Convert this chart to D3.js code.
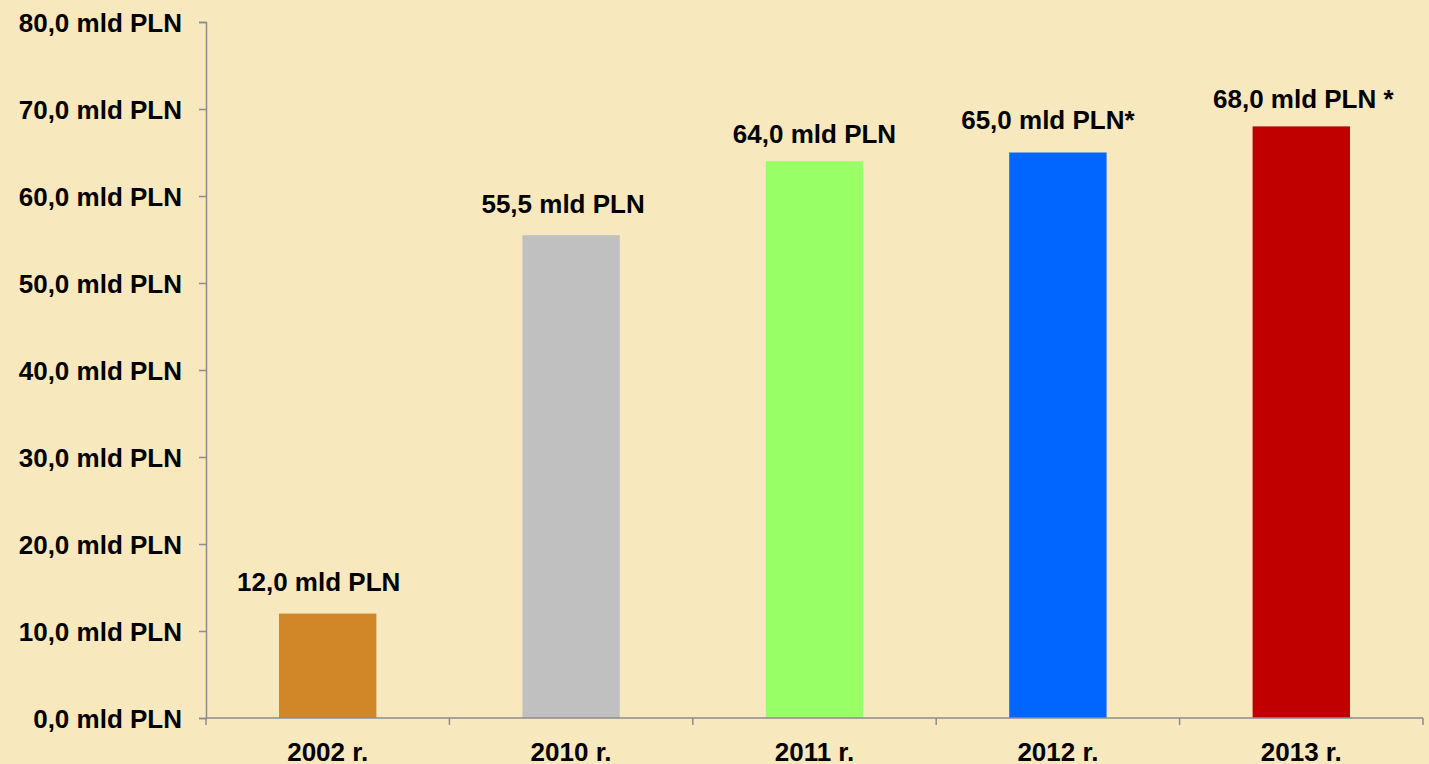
<!DOCTYPE html>
<html lang="pl">
<head>
<meta charset="UTF-8">
<title>mld PLN</title>
<style>
  body, html { margin: 0; padding: 0; background: #F7E8BE; }
  svg { display: block; }
  text { font-family: "Liberation Sans", Arial, sans-serif; font-weight: bold; fill: #000; }
</style>
</head>
<body>
<svg id="chart" width="1429" height="764"></svg>
<script src="https://cdn.jsdelivr.net/npm/d3@7"></script>
<script>
var years = ["2002 r.", "2010 r.", "2011 r.", "2012 r.", "2013 r."];
var values = [12.0, 55.5, 64.0, 65.0, 68.0];
var labels = ["12,0 mld PLN", "55,5 mld PLN", "64,0 mld PLN", "65,0 mld PLN*", "68,0 mld PLN *"];
var colors = ["#D18628", "#C0C0C0", "#99FF66", "#0066FF", "#C00000"];
var yTicks = [0, 10, 20, 30, 40, 50, 60, 70, 80];

var svg = d3.select("#chart"),
    plotLeft = 206, plotRight = 1423, plotTop = 22, plotBottom = 718,
    fontSize = "26px";

// labels were hand-placed in the original, nudge them the same way
var labelShift = [[-9, 23], [-8, 22], [0, 18], [-10, 24], [2, 18]];

var x = d3.scaleBand().domain(years).range([plotLeft, plotRight]).paddingInner(0.6).paddingOuter(0.3);
var y = d3.scaleLinear().domain([0, 80]).range([plotBottom, plotTop]);

var fmt = function (v) { return v.toFixed(1).replace(".", ",") + " mld PLN"; };

// y axis
var yAxis = svg.append("g")
    .attr("transform", "translate(" + plotLeft + ",0)")
    .call(d3.axisLeft(y).tickValues(yTicks).tickSize(7).tickPadding(17).tickFormat(fmt));
yAxis.select(".domain").attr("stroke", "#8C8C8C").attr("stroke-width", 1.5);
yAxis.selectAll(".tick line").attr("stroke", "#8C8C8C").attr("stroke-width", 1.5);
yAxis.selectAll("text").style("font-size", fontSize).attr("dy", "0.35em")
    .style("font-family", "'Liberation Sans', Arial, sans-serif").style("font-weight", "bold").attr("fill", "#000");

// bars
svg.selectAll("rect.bar").data(values).enter().append("rect")
    .attr("class", "bar")
    .attr("x", function (d, i) { return x(years[i]); })
    .attr("width", x.bandwidth())
    .attr("y", function (d) { return y(d); })
    .attr("height", function (d) { return y(0) - y(d); })
    .attr("fill", function (d, i) { return colors[i]; });

// value labels
svg.selectAll("text.val").data(values).enter().append("text")
    .attr("class", "val")
    .attr("x", function (d, i) { return x(years[i]) + x.bandwidth() / 2 + labelShift[i][0]; })
    .attr("y", function (d, i) { return y(d) - labelShift[i][1]; })
    .attr("text-anchor", "middle")
    .style("font-size", fontSize)
    .text(function (d, i) { return labels[i]; });

// x axis with ticks between categories
var step = (plotRight - plotLeft) / years.length;
var bounds = d3.range(years.length + 1).map(function (i) { return plotLeft + i * step; });
var xAxis = svg.append("g");
xAxis.append("line").attr("x1", plotLeft).attr("x2", plotRight).attr("y1", plotBottom).attr("y2", plotBottom)
    .attr("stroke", "#8C8C8C").attr("stroke-width", 1.5);
xAxis.selectAll("line.tk").data(bounds).enter().append("line")
    .attr("class", "tk")
    .attr("x1", function (d) { return d; }).attr("x2", function (d) { return d; })
    .attr("y1", plotBottom).attr("y2", plotBottom + 7)
    .attr("stroke", "#8C8C8C").attr("stroke-width", 1.5);
xAxis.selectAll("text.cat").data(years).enter().append("text")
    .attr("class", "cat")
    .attr("x", function (d) { return x(d) + x.bandwidth() / 2; })
    .attr("y", 761)
    .attr("text-anchor", "middle")
    .style("font-size", fontSize)
    .text(function (d) { return d; });
</script>
</body>
</html>
